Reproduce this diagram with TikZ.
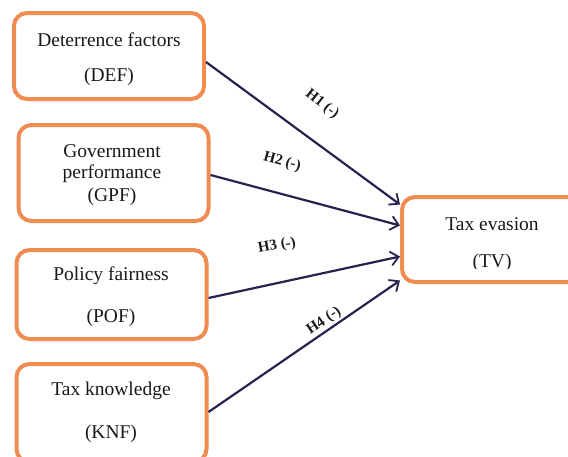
\documentclass[tikz,border=0pt]{standalone}
\usepackage{fontspec}
\setmainfont{Liberation Serif}
\usetikzlibrary{arrows.meta}
\definecolor{boxorange}{RGB}{240,140,82}
\definecolor{arrownavy}{RGB}{40,34,78}
\tikzset{
  varbox/.style={draw=boxorange, line width=4pt, rounded corners=13pt, minimum width=190pt, inner sep=0pt},
  boxtext/.style={font=\fontsize{19.5}{22}\selectfont, inner sep=0pt, text=black!90},
  hyplabel/.style={font=\bfseries\fontsize{15}{17}\selectfont, inner sep=0pt, text=black!90},
  link/.style={draw=arrownavy, line width=2.2pt, -{Straight Barb[length=8pt,width=14pt,line width=1.8pt]}}
}
\begin{document}
\begin{tikzpicture}[x=1pt,y=-1pt]
\useasboundingbox (0,0) rectangle (568,456);
\begin{scope}
\clip (0,0) rectangle (568,456);
\node[varbox, minimum height=86pt] (def) at (109,56) {};
\node[varbox, minimum height=96pt] (gpf) at (113.5,173) {};
\node[varbox, minimum height=89pt] (pof) at (111.5,294.5) {};
\node[varbox, minimum height=98pt] (knf) at (111.5,413) {};
\node[varbox, minimum height=85pt, minimum width=200pt] (tv) at (502,239.5) {};
\end{scope}
\node[boxtext] (t1) at (109,40) {Deterrence factors};
\node[boxtext] (t1b) at (109,77) {(DEF)};
\node[boxtext] (t2) at (112,151) {Government};
\node[boxtext] (t2b) at (112,174) {performance};
\node[boxtext] (t2c) at (112,197) {(GPF)};
\node[boxtext] (t3) at (111,276) {Policy fairness};
\node[boxtext] (t3b) at (111,318) {(POF)};
\node[boxtext] (t4) at (111,391) {Tax knowledge};
\node[boxtext] (t4b) at (111,434) {(KNF)};
\node[boxtext] (t5) at (492,224) {Tax evasion};
\begin{scope}
\clip (400,200) rectangle (568,268);
\node[boxtext] (t5b) at (492,263) {(TV)};
\end{scope}
\draw[link] ([yshift=-6pt]def.east) -- ([yshift=35pt]tv.west);
\draw[link] ([yshift=-2pt]gpf.east) -- ([yshift=14pt]tv.west);
\draw[link] ([yshift=-3.5pt]pof.east) -- ([yshift=-17pt]tv.west);
\draw[link] ([yshift=1pt]knf.east) -- ([yshift=-41pt]tv.west);
\node[hyplabel, rotate=-38] (h1) at (322,104) {H1 (-)};
\node[hyplabel, rotate=-15] (h2) at (282,162) {H2 (-)};
\node[hyplabel, rotate=10] (h3) at (277,246) {H3 (-)};
\node[hyplabel, rotate=34] (h4) at (324,321) {H4 (-)};
\end{tikzpicture}
\end{document}
